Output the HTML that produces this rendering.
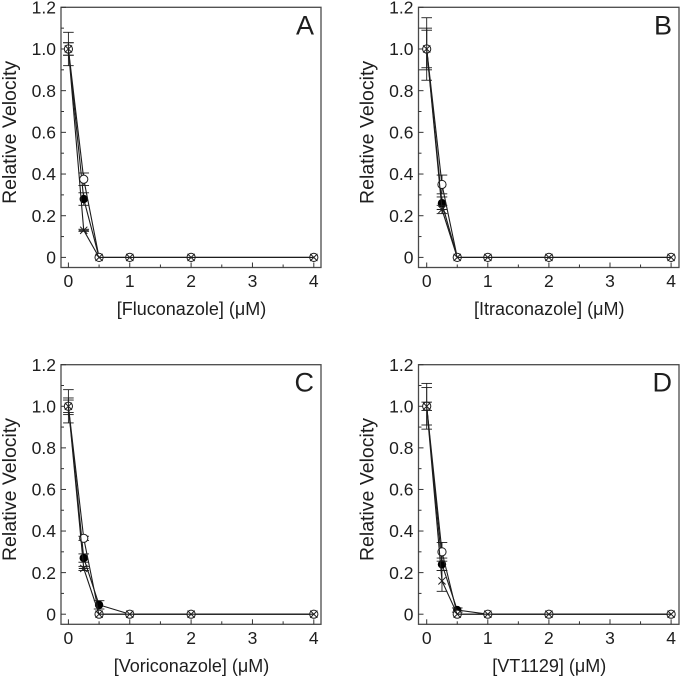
<!DOCTYPE html>
<html>
<head>
<meta charset="utf-8">
<style>
html,body{margin:0;padding:0;background:#fff;width:680px;height:678px;overflow:hidden}
svg{display:block;filter:blur(0.25px)}
text{font-family:"Liberation Sans",sans-serif;fill:#1e1e1e}
</style>
</head>
<body>
<svg id="figure" width="680" height="678" viewBox="0 0 680 678" xmlns="http://www.w3.org/2000/svg"></svg>
<script>
const concentrations = [0, 0.25, 0.5, 1, 2, 4];
const xTickLabels = [0, 1, 2, 3, 4];
const yTickLabels = ['0', '0.2', '0.4', '0.6', '0.8', '1.0', '1.2'];
const yTickValues = [0, 0.2, 0.4, 0.6, 0.8, 1.0, 1.2];
const panelLetters = ['A', 'B', 'C', 'D'];
const panelDrugs = ['Fluconazole', 'Itraconazole', 'Voriconazole', 'VT1129'];

const filledA = [1, 0.28, 0, 0, 0, 0];
const filledErrA = [0.03, 0.03, 0, 0, 0, 0];
const openA = [1, 0.375, 0, 0, 0, 0];
const openErrA = [0.08, 0.03, 0, 0, 0, 0];
const crossA = [1, 0.13, 0, 0, 0, 0];
const crossErrA = [0.03, 0.005, 0, 0, 0, 0];

const filledB = [1, 0.26, 0, 0, 0, 0];
const filledErrB = [0.10, 0.03, 0, 0, 0, 0];
const openB = [1, 0.35, 0, 0, 0, 0];
const openErrB = [0.15, 0.045, 0, 0, 0, 0];
const crossB = [1, 0.23, 0, 0, 0, 0];
const crossErrB = [0.09, 0.02, 0, 0, 0, 0];

const filledC = [1, 0.27, 0.045, 0, 0, 0];
const filledErrC = [0.04, 0.02, 0.02, 0, 0, 0];
const openC = [1, 0.365, 0, 0, 0, 0];
const openErrC = [0.08, 0.01, 0, 0, 0, 0];
const crossC = [1, 0.22, 0, 0, 0, 0];
const crossErrC = [0.03, 0.01, 0, 0, 0, 0];

const filledD = [1, 0.24, 0.02, 0, 0, 0];
const filledErrD = [0.02, 0.03, 0.01, 0, 0, 0];
const openD = [1, 0.30, 0, 0, 0, 0];
const openErrD = [0.11, 0.045, 0, 0, 0, 0];
const crossD = [1, 0.16, 0, 0, 0, 0];
const crossErrD = [0.09, 0.05, 0, 0, 0, 0];

const filledSeries = [filledA, filledB, filledC, filledD];
const filledErrors = [filledErrA, filledErrB, filledErrC, filledErrD];
const openSeries = [openA, openB, openC, openD];
const openErrors = [openErrA, openErrB, openErrC, openErrD];
const crossSeries = [crossA, crossB, crossC, crossD];
const crossErrors = [crossErrA, crossErrB, crossErrC, crossErrD];

const NS = 'http://www.w3.org/2000/svg';
const svg = document.getElementById('figure');
const INK = '#1c1c1c';

function make(parent, tag, attrs, txt) {
  const el = document.createElementNS(NS, tag);
  for (const k in attrs) el.setAttribute(k, attrs[k]);
  if (txt !== undefined) el.textContent = txt;
  parent.appendChild(el);
  return el;
}

function drawPanel(i) {
  const col = i % 2, row = i < 2 ? 0 : 1;
  const left = col ? 418.5 : 61;
  const right = col ? 679 : 321;
  const top = row ? 364.7 : 7.3;
  const bottom = row ? 624.3 : 267.5;
  const x0 = col ? 426.7 : 68.4;
  const unitX = col ? 61.1 : 61.35;
  const y0 = row ? 614.2 : 257.4;
  const unitY = (y0 - top) / 1.2;
  const xAxis = v => x0 + v * unitX;
  const yAxis = v => y0 - v * unitY;

  const g = make(svg, 'g', {});
  
  

  const frame = make(g, 'rect', {x: left, y: top, width: right - left, height: bottom - top, fill: 'none', stroke: '#4a4a4a', 'stroke-width': 1.3});
  
  

  const xAxisGroup = make(g, 'g', {});
  
  
  for (let k = 0; k <= 8; k++) {
    const v = k / 2;
    const major = k % 2 === 0;
    make(xAxisGroup, 'line', {x1: xAxis(v), x2: xAxis(v), y1: bottom, y2: bottom - (major ? 5 : 3), stroke: '#333', 'stroke-width': 1});
  }
  xTickLabels.forEach(v => {
    const t = make(xAxisGroup, 'text', {x: xAxis(v), y: bottom + 19.6, 'font-size': 17.5, 'text-anchor': 'middle'}, String(v));
    
    
  });

  const yAxisGroup = make(g, 'g', {});
  
  
  for (let k = 0; k <= 12; k++) {
    const v = k / 10;
    const major = k % 2 === 0;
    make(yAxisGroup, 'line', {x1: left, x2: left + (major ? 5 : 3), y1: yAxis(v), y2: yAxis(v), stroke: '#333', 'stroke-width': 1});
  }
  yTickValues.forEach((v, k) => {
    const t = make(yAxisGroup, 'text', {x: left - 5, y: yAxis(v) + 6.2, 'font-size': 17.5, 'text-anchor': 'end'}, yTickLabels[k]);
    
    
  });

  const xTitle = make(g, 'text', {x: (left + right) / 2 + 0.5, y: bottom + 47.5, 'font-size': 18, 'text-anchor': 'middle'}, '[' + panelDrugs[i] + '] (\u03bcM)');
  
  

  const yc = (top + bottom) / 2 - 5;
  const yTx = left - 45;
  const yTitle = make(g, 'text', {x: yTx, y: yc, 'font-size': 19.5, 'text-anchor': 'middle', transform: 'rotate(-90 ' + yTx + ' ' + yc + ')'}, 'Relative Velocity');
  
  

  const letter = make(g, 'text', {x: right - 7, y: top + 27, 'font-size': 27, 'text-anchor': 'end', fill: '#111'}, panelLetters[i]);
  
  

  function drawSeries(values, errors, kind) {
    const s = make(g, 'g', {});
    
    
    const pts = values.map((v, k) => xAxis(concentrations[k]) + ',' + yAxis(v)).join(' ');
    make(s, 'polyline', {points: pts, fill: 'none', stroke: INK, 'stroke-width': 1.1});
    values.forEach((v, k) => {
      const e = errors[k];
      const cx = xAxis(concentrations[k]);
      if (e > 0) {
        make(s, 'line', {x1: cx, x2: cx, y1: yAxis(v + e), y2: yAxis(v - e), stroke: INK, 'stroke-width': 0.9});
        make(s, 'line', {x1: cx - 5.3, x2: cx + 5.3, y1: yAxis(v + e), y2: yAxis(v + e), stroke: INK, 'stroke-width': 0.9});
        make(s, 'line', {x1: cx - 5.3, x2: cx + 5.3, y1: yAxis(v - e), y2: yAxis(v - e), stroke: INK, 'stroke-width': 0.9});
      }
    });
    values.forEach((v, k) => {
      const cx = xAxis(concentrations[k]), cy = yAxis(v);
      if (kind === 'filled') {
        make(s, 'circle', {cx: cx, cy: cy, r: 4.2, fill: '#000'});
      } else if (kind === 'open') {
        make(s, 'circle', {cx: cx, cy: cy, r: 4.1, fill: '#fff', stroke: INK, 'stroke-width': 1});
      } else {
        const a = 3.6;
        make(s, 'line', {x1: cx - a, x2: cx + a, y1: cy - a, y2: cy + a, stroke: INK, 'stroke-width': 1});
        make(s, 'line', {x1: cx - a, x2: cx + a, y1: cy + a, y2: cy - a, stroke: INK, 'stroke-width': 1});
        if (i !== 3 && v > 0 && v < 1) {
          make(s, 'line', {x1: cx - 5, x2: cx + 5, y1: cy, y2: cy, stroke: INK, 'stroke-width': 1});
        }
      }
    });
  }

  drawSeries(filledSeries[i], filledErrors[i], 'filled');
  drawSeries(openSeries[i], openErrors[i], 'open');
  drawSeries(crossSeries[i], crossErrors[i], 'cross');
}

panelLetters.forEach((_, i) => drawPanel(i));
</script>
</body>
</html>
